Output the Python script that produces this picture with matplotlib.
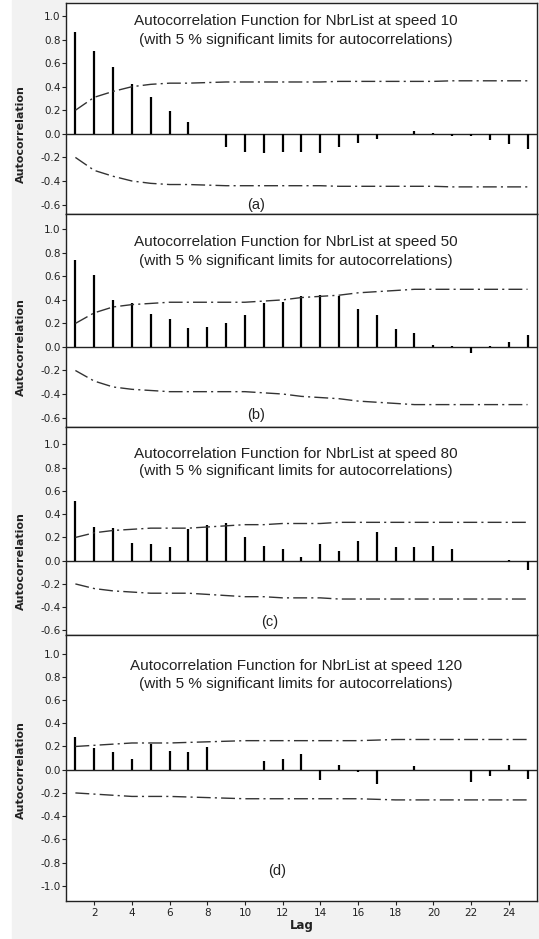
import numpy as np
import matplotlib
matplotlib.use("Agg")
import matplotlib.pyplot as plt
from matplotlib.patches import Rectangle

lags = np.arange(1, 26)

# autocorrelations
acf_10 = [0.86, 0.70, 0.57, 0.42, 0.31, 0.19, 0.10, 0.0, -0.115, -0.15, -0.16, -0.15, -0.15,
          -0.16, -0.115, -0.08, -0.04, 0.0, 0.02, 0.01, -0.015, -0.02, -0.05, -0.085, -0.125]
acf_50 = [0.74, 0.61, 0.40, 0.37, 0.28, 0.24, 0.16, 0.17, 0.20, 0.27, 0.37, 0.38, 0.43,
          0.44, 0.43, 0.32, 0.27, 0.15, 0.12, 0.02, 0.01, -0.05, 0.01, 0.04, 0.10]
acf_80 = [0.51, 0.29, 0.28, 0.15, 0.14, 0.12, 0.27, 0.31, 0.32, 0.20, 0.13, 0.10, 0.03,
          0.145, 0.08, 0.17, 0.25, 0.12, 0.12, 0.13, 0.10, -0.005, 0.0, 0.005, -0.08]
acf_120 = [0.285, 0.19, 0.15, 0.095, 0.22, 0.16, 0.15, 0.195, 0.0, 0.0, 0.077, 0.088, 0.137,
           -0.09, 0.043, -0.02, -0.12, 0.0, 0.03, 0.0, 0.0, -0.105, -0.054, 0.043, -0.077]

# 5 % significance limits (upper; lower is the mirror)
lim_10 = [0.20, 0.31, 0.36, 0.40, 0.42, 0.43, 0.43, 0.435, 0.44, 0.44, 0.44, 0.44, 0.44,
          0.44, 0.445, 0.445, 0.445, 0.445, 0.445, 0.445, 0.45, 0.45, 0.45, 0.45, 0.45]
lim_50 = [0.20, 0.29, 0.34, 0.36, 0.37, 0.38, 0.38, 0.38, 0.38, 0.38, 0.39, 0.40, 0.42,
          0.43, 0.44, 0.46, 0.47, 0.48, 0.49, 0.49, 0.49, 0.49, 0.49, 0.49, 0.49]
lim_80 = [0.20, 0.24, 0.26, 0.27, 0.28, 0.28, 0.28, 0.29, 0.30, 0.31, 0.31, 0.32, 0.32,
          0.32, 0.33, 0.33, 0.33, 0.33, 0.33, 0.33, 0.33, 0.33, 0.33, 0.33, 0.33]
lim_120 = [0.20, 0.21, 0.22, 0.23, 0.23, 0.23, 0.235, 0.24, 0.245, 0.25, 0.25, 0.25, 0.25,
           0.25, 0.25, 0.25, 0.255, 0.26, 0.26, 0.26, 0.26, 0.26, 0.26, 0.26, 0.26]

speeds = [10, 50, 80, 120]
letters = ["(a)", "(b)", "(c)", "(d)"]

# panel geometry (figure fractions), y limits, text positions in data coords
paineis = [
    dict(acf=acf_10, lim=lim_10, rect=[0.1224, 0.7721, 0.8738, 0.2247], ylim=(-0.68, 1.11),
         yt=np.arange(-0.6, 1.01, 0.2), tit=(0.96, 0.80), lab=(10.6, -0.60)),
    dict(acf=acf_50, lim=lim_50, rect=[0.1224, 0.5453, 0.8738, 0.2268], ylim=(-0.68, 1.13),
         yt=np.arange(-0.6, 1.01, 0.2), tit=(0.89, 0.73), lab=(10.6, -0.58)),
    dict(acf=acf_80, lim=lim_80, rect=[0.1224, 0.3237, 0.8738, 0.2215], ylim=(-0.64, 1.15),
         yt=np.arange(-0.6, 1.01, 0.2), tit=(0.92, 0.77), lab=(11.3, -0.53)),
    dict(acf=acf_120, lim=lim_120, rect=[0.1224, 0.0405, 0.8738, 0.2833], ylim=(-1.13, 1.16),
         yt=np.arange(-1.0, 1.01, 0.2), tit=(0.89, 0.74), lab=(11.7, -0.87)),
]

fig = plt.figure(figsize=(5.39, 9.39), dpi=100, facecolor="white")
fig.patches.append(Rectangle((12 / 539, 0), 1, 1, transform=fig.transFigure,
                             color="#f2f2f2", zorder=-10))

txt = "#222222"
estilo = (0, (10, 3, 1.5, 3))

for i, p in enumerate(paineis):
    ax = fig.add_axes(p["rect"])
    ax.set_facecolor("white")
    ax.set_xlim(0.5, 25.5)
    ax.set_ylim(*p["ylim"])

    ax.axhline(0, color="#222222", lw=1)
    ax.vlines(lags, 0, p["acf"], color="black", lw=1.6)
    lim = np.array(p["lim"])
    ax.plot(lags, lim, color="#333333", lw=1, linestyle=estilo)
    ax.plot(lags, -lim, color="#333333", lw=1, linestyle=estilo)

    ax.text(12.7, p["tit"][0], f"Autocorrelation Function for NbrList at speed {speeds[i]}",
            ha="center", va="center", fontsize=11, family="Liberation Sans", color=txt)
    ax.text(12.7, p["tit"][1], "(with 5 % significant limits for autocorrelations)",
            ha="center", va="center", fontsize=11, family="Liberation Sans", color=txt)
    ax.text(p["lab"][0], p["lab"][1], letters[i], ha="center", va="center",
            fontsize=10.5, family="Liberation Sans", color=txt)

    ax.set_yticks(p["yt"])
    ax.set_yticklabels([f"{round(v, 1) + 0.0:.1f}" for v in p["yt"]])
    ax.tick_params(axis="y", direction="out", length=3, width=0.8, pad=1,
                   labelsize=7.5, colors=txt)
    ax.text(-0.096, 0.0, "Autocorrelation", rotation=90, ha="center", va="center",
            fontsize=8, fontweight="bold", color=txt, transform=ax.get_yaxis_transform())

    for s in ax.spines.values():
        s.set_color("#222222")
        s.set_linewidth(1)

    if i < 3:
        ax.set_xticks([])
    else:
        ax.set_xticks(np.arange(2, 25, 2))
        ax.tick_params(axis="x", direction="out", length=3, width=0.8, pad=2,
                       labelsize=7.5, colors=txt)
        ax.set_xlabel("Lag", fontsize=8.5, fontweight="bold", color=txt, labelpad=1)

fig.savefig("out.png", dpi=100, facecolor=fig.get_facecolor())
